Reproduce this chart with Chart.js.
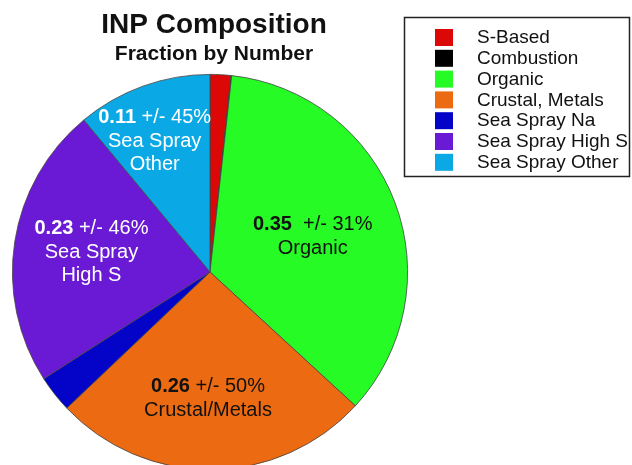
<!DOCTYPE html>
<html>
<head>
<meta charset="utf-8">
<script src="https://cdn.jsdelivr.net/npm/chart.js@4"></script>
<style>
    html, body { margin: 0; padding: 0; background: #fff; overflow: hidden; }
    #wrap { width: 632px; height: 480px; position: relative; }
</style>
</head>
<body>
<div id="wrap"><canvas id="pie"></canvas></div>
<script>
// Categories and fractions (by number)
const CATEGORIES = ['S-Based', 'Combustion', 'Organic', 'Crustal, Metals', 'Sea Spray Na', 'Sea Spray High S', 'Sea Spray Other'];
const FRACTIONS = [0.017, 0.0005, 0.35, 0.26, 0.03, 0.23, 0.11];
const UNCERTAINTY = [null, null, '31%', '50%', null, '46%', '45%'];
const SLICE_NAMES = [null, null, ['Organic'], ['Crustal/Metals'], null, ['Sea Spray', 'High S'], ['Sea Spray', 'Other']];

const COLORS = ['#dc0808', '#000000', '#26fb26', '#ec6a12', '#0404c8', '#6a1ad4', '#0aa8e4'];
const LABEL_COLORS = [null, null, '#111', '#111', null, '#fff', '#fff'];

// where slice labels sit, relative to pie centre (fraction of radius)
const LABEL_SPOTS = [null, null, [0.52, -0.24], [-0.01, 0.58], null, [-0.6, -0.22], [-0.28, -0.78]];

const FONT = '"Liberation Sans", Arial, sans-serif';

const textPlugin = {
    id: 'textPlugin',
    afterDraw(chart) {
        const ctx = chart.ctx;
        const arc = chart.getDatasetMeta(0).data[0];
        const cx = arc.x, cy = arc.y, r = arc.outerRadius;

        ctx.save();
        ctx.textAlign = 'center';
        ctx.textBaseline = 'middle';

        // titles
        ctx.fillStyle = '#111';
        ctx.font = 'bold 28px ' + FONT;
        ctx.fillText('INP Composition', 214, 25);
        ctx.font = 'bold 21px ' + FONT;
        ctx.fillText('Fraction by Number', 214, 54);

        // slice labels
        FRACTIONS.forEach((v, i) => {
            if (!LABEL_SPOTS[i]) return;
            const x = cx + LABEL_SPOTS[i][0] * r;
            let y = cy + LABEL_SPOTS[i][1] * r;
            ctx.fillStyle = LABEL_COLORS[i];
            const num = v.toFixed(2);
            const rest = (i === 2 ? '  ' : ' ') + '+/- ' + UNCERTAINTY[i];
            ctx.font = 'bold 20px ' + FONT;
            const w1 = ctx.measureText(num).width;
            ctx.font = '20px ' + FONT;
            const w2 = ctx.measureText(rest).width;
            const x0 = x - (w1 + w2) / 2;
            ctx.textAlign = 'left';
            ctx.font = 'bold 20px ' + FONT;
            ctx.fillText(num, x0, y);
            ctx.font = '20px ' + FONT;
            ctx.fillText(rest, x0 + w1, y);
            ctx.textAlign = 'center';
            SLICE_NAMES[i].forEach(line => {
                y += 23.5;
                ctx.fillText(line, x, y);
            });
        });

        // legend box
        ctx.strokeStyle = '#222';
        ctx.lineWidth = 1.5;
        ctx.strokeRect(404.5, 17.5, 225, 159);
        ctx.textAlign = 'left';
        ctx.font = '19px ' + FONT;
        CATEGORIES.forEach((name, i) => {
            const y = 37 + i * 20.8;
            ctx.fillStyle = COLORS[i];
            ctx.fillRect(435, y - 8, 18, 17);
            ctx.fillStyle = '#111';
            ctx.fillText(name, 477, y + 1);
        });
        ctx.restore();
    }
};

new Chart(document.getElementById('pie'), {
    type: 'pie',
    data: {
        labels: CATEGORIES,
        datasets: [{
            data: FRACTIONS,
            backgroundColor: COLORS,
            borderColor: '#444',
            borderWidth: 0.8
        }]
    },
    options: {
        responsive: true,
        maintainAspectRatio: false,
        animation: false,
        layout: { padding: { left: 12, right: 224, top: 74, bottom: 10 } },
        plugins: {
            legend: { display: false },
            tooltip: { enabled: false }
        }
    },
    plugins: [textPlugin]
});
</script>
</body>
</html>
